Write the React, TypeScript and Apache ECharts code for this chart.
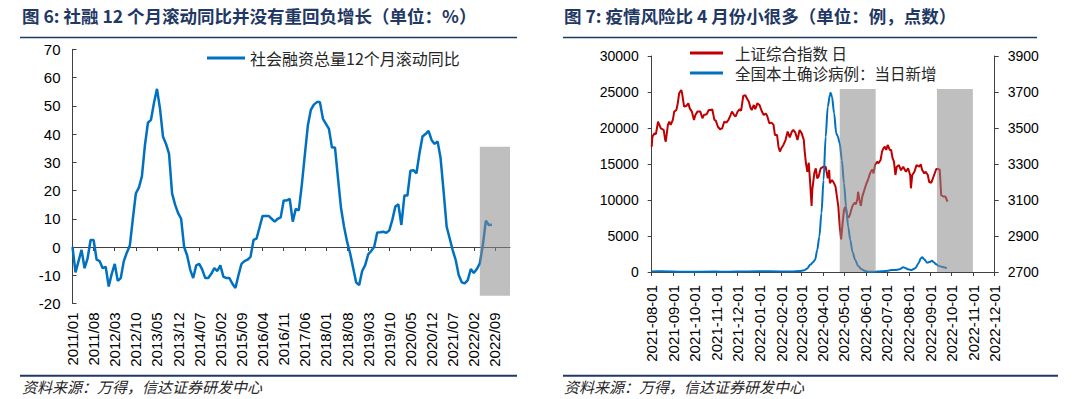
import React, { useEffect, useRef } from 'react';
import * as echarts from 'echarts';

// ---------- Chart 6: monthly categories & values ----------
const sfMonths: string[] = (() => {
  const out: string[] = [];
  for (let y = 2011; y <= 2023; y++) {
    for (let m = 1; m <= 12; m++) out.push(`${y}/${String(m).padStart(2, '0')}`);
  }
  return out.slice(0, 146); // 2011/01 .. 2023/02
})();

const sfValues: number[] = [
  0, -9, -5, -1, -7.5, -4, 2.5, 2.5, -4.5, -5,
  -7.5, -7, -14, -9.5, -6, -12, -11, -5, -2, 0.5,
  10, 19, 21, 25, 36, 44, 45, 51, 56, 49,
  39, 36.5, 33, 19, 15, 12, 10, 0, -3, -8,
  -11, -6.5, -6, -8, -11, -11, -9.5, -7.5, -8.5, -6.5,
  -10.5, -11, -11, -13, -14.5, -10, -6, -5, -4.5, -3.5,
  2.5, 3, 7, 11, 11, 11, 10, 9, 10, 10.5,
  16.5, 16.5, 17, 9, 13.5, 13, 22, 32.6, 43, 48.6,
  50.4, 51.3, 51.3, 45.4, 43.6, 41.8, 35.2, 35.2, 24.3, 13.7,
  7.2, 1.9, -2.2, -7.3, -12.5, -13.5, -8.5, -6.4, -2.6, -1.4,
  0.1, 5.1, 5.2, 5.4, 5, 5.9, 9.6, 14.3, 15.1, 7.8,
  18.2, 18.2, 27, 27.2, 26.1, 33.2, 39.1, 40, 41.1, 37.9,
  36.5, 37.4, 31.4, 19.6, 7.2, 3.1, -1.1, -4.6, -9.9, -12.5,
  -12.9, -11.7, -7.8, -9.2, -7.8, -5.8, 0.7, 9.3, 7.8, 7.9,
];

const sfShadeX = ['2022/04', '2023/02'];
const sfShadeY = [-17.3, 35.5];

// ---------- Chart 7: daily categories ----------
const days: string[] = (() => {
  const out: string[] = [];
  const d = new Date(Date.UTC(2021, 7, 1));
  const end = Date.UTC(2022, 11, 1);
  while (d.getTime() <= end) {
    out.push(d.toISOString().slice(0, 10));
    d.setUTCDate(d.getUTCDate() + 1);
  }
  return out;
})();

const sseData: [string, number][] = [
  ['2021-08-01', 3396], ['2021-08-02', 3452], ['2021-08-05', 3470], ['2021-08-07', 3466],
  ['2021-08-10', 3535], ['2021-08-11', 3526], ['2021-08-14', 3498], ['2021-08-18', 3490],
  ['2021-08-20', 3437], ['2021-08-21', 3424], ['2021-08-24', 3517], ['2021-08-26', 3535],
  ['2021-08-28', 3517], ['2021-08-31', 3545], ['2021-09-02', 3591], ['2021-09-05', 3600],
  ['2021-09-07', 3637], ['2021-09-09', 3693], ['2021-09-12', 3711], ['2021-09-13', 3696],
  ['2021-09-16', 3619], ['2021-09-19', 3622], ['2021-09-22', 3637], ['2021-09-24', 3609],
  ['2021-09-27', 3591], ['2021-09-30', 3545], ['2021-10-02', 3572], ['2021-10-05', 3591],
  ['2021-10-09', 3591], ['2021-10-12', 3554], ['2021-10-14', 3572], ['2021-10-18', 3576],
  ['2021-10-21', 3600], ['2021-10-24', 3600], ['2021-10-26', 3604], ['2021-10-29', 3545],
  ['2021-10-31', 3541], ['2021-11-03', 3507], ['2021-11-06', 3493], ['2021-11-09', 3498],
  ['2021-11-12', 3535], ['2021-11-15', 3530], ['2021-11-18', 3545], ['2021-11-21', 3572],
  ['2021-11-23', 3591], ['2021-11-26', 3572], ['2021-11-28', 3563], ['2021-12-01', 3591],
  ['2021-12-04', 3604], ['2021-12-06', 3596], ['2021-12-09', 3678], ['2021-12-12', 3683],
  ['2021-12-14', 3665], ['2021-12-17', 3646], ['2021-12-19', 3615], ['2021-12-21', 3600],
  ['2021-12-24', 3628], ['2021-12-26', 3604], ['2021-12-29', 3637], ['2022-01-01', 3628],
  ['2022-01-04', 3596], ['2022-01-07', 3572], ['2022-01-10', 3581], ['2022-01-12', 3567],
  ['2022-01-15', 3526], ['2022-01-18', 3530], ['2022-01-21', 3517], ['2022-01-23', 3461],
  ['2022-01-26', 3461], ['2022-01-28', 3396], ['2022-01-30', 3369], ['2022-02-01', 3387],
  ['2022-02-04', 3406], ['2022-02-07', 3433], ['2022-02-10', 3480], ['2022-02-13', 3448],
  ['2022-02-16', 3480], ['2022-02-18', 3489], ['2022-02-21', 3474], ['2022-02-24', 3433],
  ['2022-02-27', 3489], ['2022-03-02', 3470], ['2022-03-05', 3433], ['2022-03-06', 3378],
  ['2022-03-08', 3304], ['2022-03-10', 3257], ['2022-03-12', 3307], ['2022-03-14', 3193],
  ['2022-03-16', 3067], ['2022-03-17', 3156], ['2022-03-20', 3252], ['2022-03-22', 3276],
  ['2022-03-24', 3220], ['2022-03-26', 3230], ['2022-03-29', 3276], ['2022-04-02', 3285],
  ['2022-04-05', 3285], ['2022-04-08', 3220], ['2022-04-10', 3267], ['2022-04-11', 3193],
  ['2022-04-14', 3211], ['2022-04-17', 3193], ['2022-04-19', 3174], ['2022-04-21', 3119],
  ['2022-04-23', 3063], ['2022-04-25', 2952], ['2022-04-27', 2881], ['2022-04-29', 2970],
  ['2022-05-01', 3044], ['2022-05-03', 3063], ['2022-05-06', 3004], ['2022-05-08', 3004],
  ['2022-05-10', 3026], ['2022-05-13', 3067], ['2022-05-16', 3085], ['2022-05-18', 3076],
  ['2022-05-20', 3104], ['2022-05-21', 3146], ['2022-05-23', 3100], ['2022-05-25', 3067],
  ['2022-05-27', 3119], ['2022-05-30', 3156], ['2022-06-02', 3193], ['2022-06-04', 3211],
  ['2022-06-07', 3248], ['2022-06-10', 3270], ['2022-06-12', 3248], ['2022-06-14', 3294],
  ['2022-06-17', 3313], ['2022-06-19', 3304], ['2022-06-22', 3322], ['2022-06-24', 3369],
  ['2022-06-26', 3387], ['2022-06-28', 3396], ['2022-06-30', 3378], ['2022-07-02', 3406],
  ['2022-07-05', 3378], ['2022-07-07', 3378], ['2022-07-09', 3332], ['2022-07-11', 3313],
  ['2022-07-13', 3239], ['2022-07-15', 3285], ['2022-07-18', 3294], ['2022-07-21', 3265],
  ['2022-07-24', 3285], ['2022-07-28', 3257], ['2022-07-31', 3276], ['2022-08-03', 3239],
  ['2022-08-04', 3165], ['2022-08-06', 3239], ['2022-08-09', 3257], ['2022-08-12', 3294],
  ['2022-08-16', 3285], ['2022-08-18', 3298], ['2022-08-20', 3267], ['2022-08-23', 3248],
  ['2022-08-25', 3257], ['2022-08-28', 3239], ['2022-08-30', 3200], ['2022-09-02', 3196],
  ['2022-09-04', 3217], ['2022-09-07', 3250], ['2022-09-09', 3272], ['2022-09-12', 3272],
  ['2022-09-14', 3268], ['2022-09-16', 3128], ['2022-09-19', 3119], ['2022-09-22', 3119],
  ['2022-09-25', 3091],
];

const covidData: [string, number][] = [
  ['2021-08-01', 80], ['2021-08-15', 90], ['2021-09-15', 30], ['2021-10-31', 60],
  ['2021-11-15', 40], ['2021-12-15', 80], ['2022-01-15', 100], ['2022-02-15', 60],
  ['2022-03-01', 150], ['2022-03-06', 250], ['2022-03-10', 500], ['2022-03-14', 1000],
  ['2022-03-18', 1350], ['2022-03-21', 1700], ['2022-03-24', 3060], ['2022-03-27', 4900],
  ['2022-03-30', 8150], ['2022-04-02', 12780], ['2022-04-05', 18800], ['2022-04-08', 22960],
  ['2022-04-11', 24590], ['2022-04-12', 24900], ['2022-04-14', 24350], ['2022-04-17', 22040],
  ['2022-04-20', 19260], ['2022-04-22', 18900], ['2022-04-25', 17870], ['2022-04-28', 15560],
  ['2022-05-01', 12320], ['2022-05-04', 9070], ['2022-05-07', 6300], ['2022-05-10', 4440],
  ['2022-05-13', 2820], ['2022-05-17', 1670], ['2022-05-21', 830], ['2022-05-26', 370],
  ['2022-05-31', 140], ['2022-06-04', 50], ['2022-06-14', 50], ['2022-06-24', 90],
  ['2022-07-03', 185], ['2022-07-08', 280], ['2022-07-12', 280], ['2022-07-19', 370],
  ['2022-07-24', 650], ['2022-07-27', 555], ['2022-07-31', 370], ['2022-08-05', 280],
  ['2022-08-10', 510], ['2022-08-15', 1200], ['2022-08-18', 1900], ['2022-08-20', 2040],
  ['2022-08-23', 1760], ['2022-08-27', 1300], ['2022-08-31', 1390], ['2022-09-03', 1570],
  ['2022-09-05', 1390], ['2022-09-09', 1065], ['2022-09-13', 830], ['2022-09-17', 740],
  ['2022-09-20', 650], ['2022-09-24', 510],
];

const riskShades: [string, string][] = [
  ['2022-04-25', '2022-06-15'],
  ['2022-09-10', '2022-10-31'],
];
const riskShadeTop = 25400;

// ---------- texts ----------
const title6 = '图 6: 社融 12 个月滚动同比并没有重回负增长（单位：%）';
const title7 = '图 7: 疫情风险比 4 月份小很多（单位：例，点数）';
const sourceText = '资料来源：万得，信达证券研发中心';
const sfName = '社会融资总量12个月滚动同比';
const sseName = '上证综合指数 日';
const covidName = '全国本土确诊病例：当日新增';

const NAVY = '#1F3864';
const AXIS = '#404040';
const NUM_FONT = '"Liberation Sans", Arial, sans-serif';
const CJK_FONT = '"Noto Sans CJK SC", "Noto Sans", sans-serif';
const SHADE = 'rgba(139,139,139,0.55)';

const isMonthStart = (_i: number, v: string) => v.slice(8, 10) === '01';
const plainNumber = (v: number) => String(v);

function buildOption(): any {
  return {
    animation: false,
    backgroundColor: '#ffffff',
    grid: [
      { left: 72.5, top: 49.3, width: 437.5, height: 254.2 },
      { left: 651.7, top: 56, width: 343, height: 216 },
    ],
    legend: [
      {
        left: 207, top: 50, padding: 0, itemWidth: 38, itemHeight: 3, icon: 'rect',
        data: [sfName],
        textStyle: { fontSize: 16, color: '#262626', fontFamily: CJK_FONT },
      },
      {
        left: 690, top: 45, padding: 0, orient: 'vertical', itemGap: 4,
        itemWidth: 33, itemHeight: 3, icon: 'rect',
        data: [sseName, covidName],
        textStyle: { fontSize: 15.5, lineHeight: 16, color: '#262626', fontFamily: CJK_FONT, padding: [0, 0, 0, 7] },
      },
    ],
    xAxis: [
      {
        type: 'category', gridIndex: 0, data: sfMonths, boundaryGap: false, position: 'bottom',
        axisLine: { show: false, onZero: false }, axisTick: { show: false },
        axisLabel: { interval: 6, rotate: 90, margin: 9, fontSize: 15, color: '#000', fontFamily: NUM_FONT },
        splitLine: { show: false },
      },
      {
        type: 'category', gridIndex: 0, data: sfMonths, boundaryGap: false, position: 'bottom',
        axisLine: { show: true, onZero: true, lineStyle: { color: AXIS, width: 1 } },
        axisTick: { show: true, interval: 6, length: 4, lineStyle: { color: AXIS } },
        axisLabel: { show: false },
        splitLine: { show: false },
      },
      {
        type: 'category', gridIndex: 1, data: days, boundaryGap: false,
        axisLine: { show: true, lineStyle: { color: AXIS } },
        axisTick: { show: true, interval: isMonthStart, length: 4, lineStyle: { color: AXIS } },
        axisLabel: { interval: isMonthStart, rotate: 90, margin: 13, fontSize: 15, color: '#000', fontFamily: NUM_FONT },
        splitLine: { show: false },
      },
    ],
    yAxis: [
      {
        type: 'value', gridIndex: 0, min: -20, max: 70, interval: 10,
        axisLine: { show: true, lineStyle: { color: AXIS } },
        axisTick: { show: true, inside: true, length: 4, lineStyle: { color: AXIS } },
        axisLabel: { margin: 12, fontSize: 15, color: '#000', fontFamily: NUM_FONT, formatter: plainNumber },
        splitLine: { show: false },
      },
      {
        type: 'value', gridIndex: 1, min: 0, max: 30000, interval: 5000,
        axisLine: { show: true, lineStyle: { color: AXIS } },
        axisTick: { show: true, length: 4, lineStyle: { color: AXIS } },
        axisLabel: { margin: 13, fontSize: 14, color: '#000', fontFamily: NUM_FONT, formatter: plainNumber },
        splitLine: { show: false },
      },
      {
        type: 'value', gridIndex: 1, position: 'right', min: 2700, max: 3900, alignTicks: true,
        axisLine: { show: true, lineStyle: { color: AXIS } },
        axisTick: { show: true, length: 4, lineStyle: { color: AXIS } },
        axisLabel: { margin: 13, fontSize: 14, color: '#000', fontFamily: NUM_FONT, formatter: plainNumber },
        splitLine: { show: false },
      },
    ],
    series: [
      {
        type: 'line', name: sfName, xAxisIndex: 0, yAxisIndex: 0, data: sfValues,
        symbol: 'none', showSymbol: false,
        lineStyle: { width: 2.5, color: '#0070C0' }, itemStyle: { color: '#0070C0' },
        markArea: {
          silent: true, z: 10,
          itemStyle: { color: SHADE },
          data: [[{ xAxis: sfShadeX[0], yAxis: sfShadeY[1] }, { xAxis: sfShadeX[1], yAxis: sfShadeY[0] }]],
        },
      },
      {
        type: 'line', name: sseName, xAxisIndex: 2, yAxisIndex: 2, data: sseData,
        symbol: 'none', showSymbol: false,
        lineStyle: { width: 2, color: '#C00000' }, itemStyle: { color: '#C00000' },
      },
      {
        type: 'line', name: covidName, xAxisIndex: 2, yAxisIndex: 1, data: covidData,
        symbol: 'none', showSymbol: false, smooth: 0.3, smoothMonotone: 'x',
        lineStyle: { width: 2, color: '#0070C0' }, itemStyle: { color: '#0070C0' },
        markArea: {
          silent: true, z: 10,
          itemStyle: { color: SHADE },
          data: riskShades.map(([a, b]) => [{ xAxis: a, yAxis: 0 }, { xAxis: b, yAxis: riskShadeTop }]),
        },
      },
    ],
    graphic: [
      { type: 'text', left: 22, top: 7, style: { text: title6, font: `bold 17.5px ${CJK_FONT}`, fill: NAVY } },
      { type: 'text', left: 564, top: 7, style: { text: title7, font: `bold 17.5px ${CJK_FONT}`, fill: NAVY } },
      { type: 'line', shape: { x1: 20, y1: 37.5, x2: 517, y2: 37.5 }, style: { stroke: NAVY, lineWidth: 1.5 } },
      { type: 'line', shape: { x1: 563, y1: 37.5, x2: 1037, y2: 37.5 }, style: { stroke: NAVY, lineWidth: 1.5 } },
      { type: 'line', shape: { x1: 20, y1: 375.7, x2: 517, y2: 375.7 }, style: { stroke: NAVY, lineWidth: 2 } },
      { type: 'line', shape: { x1: 563, y1: 375.7, x2: 1058, y2: 375.7 }, style: { stroke: NAVY, lineWidth: 2 } },
      { type: 'text', left: 22, top: 379, style: { text: sourceText, font: `italic 15px ${CJK_FONT}`, fill: '#262626' } },
      { type: 'text', left: 564, top: 379, style: { text: sourceText, font: `italic 15px ${CJK_FONT}`, fill: '#262626' } },
    ],
  };
}

export default function App() {
  const ref = useRef<HTMLDivElement>(null);
  useEffect(() => {
    document.body.style.margin = '0';
    if (!ref.current) return;
    const chart = echarts.init(ref.current, undefined, { renderer: 'svg', width: 1080, height: 399 });
    chart.setOption(buildOption());
    return () => chart.dispose();
  }, []);
  return <div ref={ref} style={{ width: 1080, height: 399, position: 'absolute', left: 0, top: 0 }} />;
}
